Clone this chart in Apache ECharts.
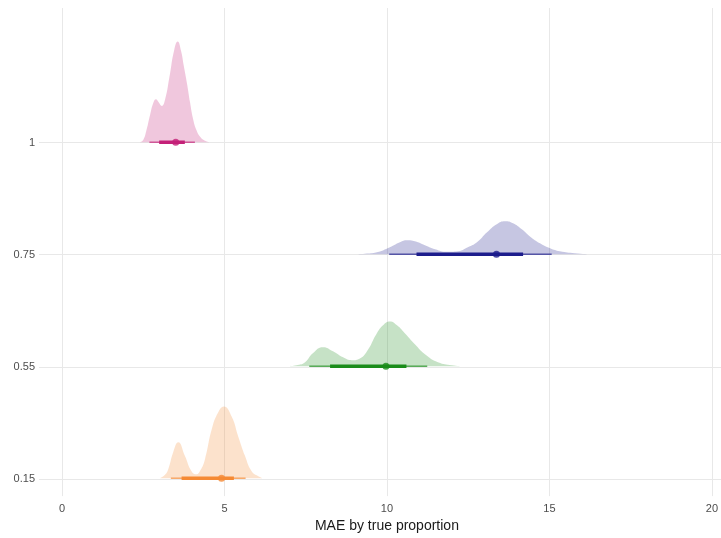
<!DOCTYPE html>
<html>
<head>
<meta charset="utf-8">
<script src="https://cdn.jsdelivr.net/npm/echarts@6/dist/echarts.min.js"></script>
<style>
  html, body { margin: 0; padding: 0; background: #fff; }
  #chart { width: 721px; height: 538px; }
</style>
</head>
<body>
<div id="chart"></div>
<script>
// rows, bottom to top
const rows = ['0.15', '0.55', '0.75', '1']
const xTicks = [0, 5, 10, 15, 20]

// density slabs: [MAE, height in row units]
const dens015 = [[3.02,0],[3.17,0.03],[3.27,0.08],[3.42,0.23],[3.58,0.32],[3.78,0.20],[3.99,0.06],[4.14,0.035],[4.26,0.07],[4.40,0.17],[4.61,0.44],[4.81,0.59],[4.98,0.64],[5.22,0.55],[5.42,0.375],[5.63,0.20],[5.84,0.06],[6.04,0.018],[6.18,0]]
const dens055 = [[7.02,0],[7.26,0.01],[7.48,0.036],[7.72,0.116],[8.03,0.17],[8.34,0.134],[8.65,0.08],[8.92,0.054],[9.17,0.07],[9.42,0.15],[9.66,0.28],[9.88,0.366],[10.09,0.40],[10.31,0.366],[10.55,0.295],[10.86,0.196],[11.17,0.107],[11.57,0.036],[12.0,0.009],[12.31,0]]
const dens075 = [[9.02,0],[9.32,0.005],[9.69,0.018],[10.09,0.0625],[10.40,0.107],[10.62,0.125],[10.86,0.116],[11.17,0.08],[11.48,0.045],[11.85,0.022],[12.18,0.027],[12.49,0.0625],[12.77,0.107],[13.08,0.196],[13.38,0.268],[13.63,0.295],[13.88,0.277],[14.15,0.223],[14.40,0.16],[14.71,0.098],[15.02,0.054],[15.32,0.027],[15.78,0.009],[16.25,0]]
const dens1 = [[2.40,0],[2.50,0.02],[2.60,0.11],[2.71,0.245],[2.82,0.36],[2.89,0.385],[2.97,0.36],[3.07,0.325],[3.17,0.38],[3.32,0.607],[3.45,0.82],[3.56,0.90],[3.66,0.82],[3.75,0.68],[3.85,0.52],[3.94,0.357],[4.03,0.214],[4.14,0.107],[4.25,0.05],[4.40,0.015],[4.55,0]]

// point + intervals per row
const pointEst = [4.91, 9.97, 13.37, 3.5]
const thickLo = [3.68, 8.25, 10.91, 2.99]
const thickHi = [5.29, 10.6, 14.19, 3.78]
const thinLo = [3.35, 7.61, 10.07, 2.69]
const thinHi = [5.65, 11.24, 15.07, 4.09]

const darkColors = ['#f58a34', '#1a8c1a', '#1c1c8c', '#c42178']
const fillColors = ['rgba(245,138,52,0.25)', 'rgba(26,140,26,0.25)', 'rgba(28,28,140,0.25)', 'rgba(196,33,120,0.25)']

const densities = [dens015, dens055, dens075, dens1]
const yMin = -0.16
const yMax = 4.2
const gridColor = '#e8e8e8'
const font = 'Liberation Sans, Arial, sans-serif'

const series = []
densities.forEach((d, i) => {
  series.push({
    type: 'line',
    xAxisIndex: 1,
    yAxisIndex: 1,
    data: d.map(p => [p[0], i + p[1]]),
    smooth: 0.5,
    symbol: 'none',
    lineStyle: { width: 0 },
    areaStyle: { color: fillColors[i], opacity: 1, origin: i },
    silent: true,
    z: 2
  })
})
rows.forEach((r, i) => {
  series.push({
    type: 'line',
    xAxisIndex: 1,
    yAxisIndex: 1,
    data: [[thinLo[i], i], [thinHi[i], i]],
    symbol: 'none',
    lineStyle: { color: darkColors[i], width: 1.5, opacity: 0.7 },
    z: 3
  })
  series.push({
    type: 'line',
    xAxisIndex: 1,
    yAxisIndex: 1,
    data: [[thickLo[i], i], [thickHi[i], i]],
    symbol: 'none',
    lineStyle: { color: darkColors[i], width: 3.5 },
    z: 4
  })
  series.push({
    type: 'scatter',
    xAxisIndex: 1,
    yAxisIndex: 1,
    data: [[pointEst[i], i]],
    symbolSize: 7,
    itemStyle: { color: darkColors[i] },
    z: 5
  })
})

const chart = echarts.init(document.getElementById('chart'), null, { renderer: 'canvas' })
chart.setOption({
  animation: false,
  backgroundColor: '#fff',
  grid: [
    { left: 39, right: 0, top: 8, bottom: 41 },
    { left: 62, right: 9, top: 8, bottom: 41 }
  ],
  xAxis: [
    {
      gridIndex: 0, type: 'value', min: 0, max: 1, show: false
    },
    {
      gridIndex: 1,
      type: 'value',
      min: 0,
      max: 20,
      interval: 5,
      name: 'MAE by true proportion',
      nameLocation: 'middle',
      nameGap: 22,
      nameTextStyle: { color: '#1a1a1a', fontSize: 14, fontFamily: font },
      axisLine: { show: false },
      axisTick: { show: false },
      axisLabel: { color: '#4d4d4d', fontSize: 11, fontFamily: font, margin: 7 },
      splitLine: { show: true, lineStyle: { color: gridColor, width: 1 } }
    }
  ],
  yAxis: [
    {
      gridIndex: 0,
      type: 'value',
      min: yMin,
      max: yMax,
      axisLine: { show: false },
      axisTick: { show: false, customValues: [0, 1, 2, 3] },
      axisLabel: {
        customValues: [0, 1, 2, 3],
        formatter: v => rows[Math.round(v)],
        color: '#4d4d4d',
        fontSize: 11,
        fontFamily: font,
        margin: 4
      },
      splitLine: { show: true, lineStyle: { color: gridColor, width: 1 } }
    },
    {
      gridIndex: 1, type: 'value', min: yMin, max: yMax, show: false
    }
  ],
  series: series
})
</script>
</body>
</html>
